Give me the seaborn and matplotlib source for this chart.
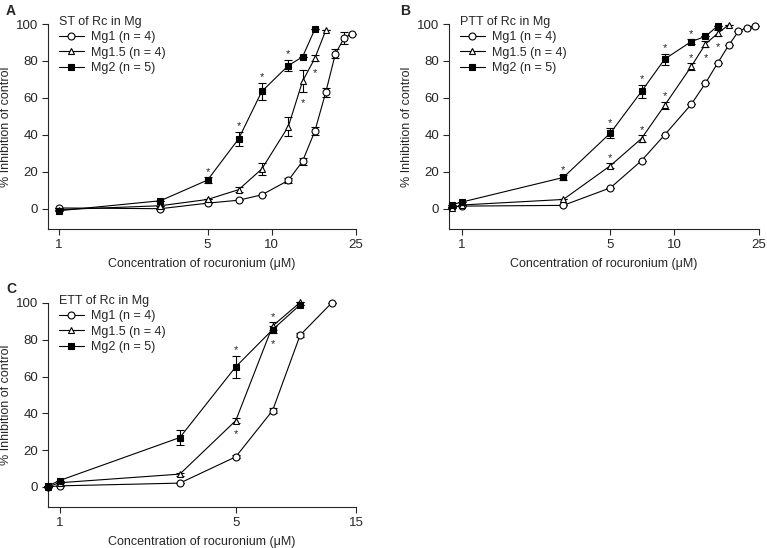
import matplotlib
matplotlib.use("Agg")
import matplotlib.pyplot as plt
import seaborn as sns
import pandas as pd

sns.set_style("ticks")
plt.rcParams['font.family'] = ['Liberation Sans', 'DejaVu Sans']

# ---- data ----
groups = ['Mg1', 'Mg1.5', 'Mg2']
labels = ['Mg1 (n = 4)', 'Mg1.5 (n = 4)', 'Mg2 (n = 5)']

# A: ST
st_x = {'Mg1': [1, 3, 5, 7, 9, 12, 14, 16, 18, 20, 22, 24],
        'Mg1.5': [1, 3, 5, 7, 9, 12, 14, 16, 18],
        'Mg2': [1, 3, 5, 7, 9, 12, 14, 16]}
st_y = {'Mg1': [0.4, 0, 3, 4.6, 7.5, 15.3, 25.7, 42, 63, 84, 92.4, 94.8],
        'Mg1.5': [-0.5, 1.6, 5, 10.3, 21.5, 44.5, 69, 81.5, 96.5],
        'Mg2': [-1.1, 4.3, 15.5, 37.8, 63.5, 77.5, 82.2, 97.2]}
st_err = {'Mg1': [0, 0, 0, 0, 0, 1.2, 2, 2.3, 2.5, 2.5, 3.4, 0],
          'Mg1.5': [0, 0, 0, 1.5, 3, 5, 6, 1.8, 0],
          'Mg2': [0, 0, 1.5, 3.7, 4.8, 3, 0, 0]}
st_stars = [('Mg2', 5, 1), ('Mg2', 7, 1), ('Mg2', 9, 1), ('Mg2', 12, 1),
            ('Mg1.5', 14, -1), ('Mg1.5', 16, -1)]

# B: PTT
ptt_x = {'Mg1': [0.9, 1, 3, 5, 7, 9, 12, 14, 16, 18, 20, 22, 24],
         'Mg1.5': [0.9, 1, 3, 5, 7, 9, 12, 14, 16, 18],
         'Mg2': [0.9, 1, 3, 5, 7, 9, 12, 14, 16]}
ptt_y = {'Mg1': [1, 1.4, 1.8, 11.3, 26, 40, 56.5, 68, 79, 88.5, 96, 98, 99],
         'Mg1.5': [0.2, 2, 5, 23.3, 38, 56, 77, 89.2, 95, 99.5],
         'Mg2': [2.2, 3.6, 16.9, 41, 63.5, 81, 90.5, 93.3, 99]}
ptt_err = {'Mg1': [0, 0, 0, 0, 0, 0, 0, 0, 0, 0, 0, 0, 0],
           'Mg1.5': [0, 0, 0, 1.2, 1.8, 2, 1.8, 1.5, 1.5, 0],
           'Mg2': [0, 0, 1.2, 2.5, 3.7, 3, 1.2, 0, 0]}
ptt_stars = [('Mg2', 3, 1), ('Mg2', 5, 1), ('Mg2', 7, 1), ('Mg2', 9, 1), ('Mg2', 12, 1),
             ('Mg1.5', 5, 1), ('Mg1.5', 7, 1), ('Mg1.5', 9, 1), ('Mg1.5', 12, 1),
             ('Mg1.5', 14, -1), ('Mg1.5', 16, -1)]

# C: ETT
ett_x = {'Mg1': [0.9, 1, 3, 5, 7, 9, 12],
         'Mg1.5': [0.9, 1, 3, 5, 7, 9],
         'Mg2': [0.9, 1, 3, 5, 7, 9]}
ett_y = {'Mg1': [0, 0.5, 2, 16.3, 41.5, 82.5, 100],
         'Mg1.5': [0, 2.2, 6.9, 36, 87.5, 100.3],
         'Mg2': [0.5, 3.4, 26.8, 65.3, 85.5, 99]}
ett_err = {'Mg1': [0, 0, 0, 0.8, 1.5, 1.2, 0],
           'Mg1.5': [0, 0, 0.8, 1.5, 2, 0],
           'Mg2': [0, 0, 4.3, 6, 2, 0]}
ett_stars = [('Mg2', 5, 1), ('Mg1.5', 5, -1), ('Mg1.5', 7, 1), ('Mg2', 7, -1)]

styles = {'Mg1': dict(marker='o', markerfacecolor='white'),
          'Mg1.5': dict(marker='^', markerfacecolor='white'),
          'Mg2': dict(marker='s', markerfacecolor='black')}


def draw_panel(ax, xs, ys, errs, stars, title, xmin, xmax, xticks):
    for g, lab in zip(groups, labels):
        df = pd.DataFrame({'conc': xs[g], 'inh': ys[g]})
        sns.lineplot(data=df, x='conc', y='inh', ax=ax, color='black', linewidth=0.8,
                     markersize=5, markeredgecolor='black', markeredgewidth=0.8,
                     label=lab, errorbar=None, clip_on=False, zorder=3, **styles[g])
        eb = ax.errorbar(xs[g], ys[g], yerr=errs[g], fmt='none', ecolor='black',
                         elinewidth=0.8, capsize=3, capthick=0.8, zorder=2)
        for art in eb.lines[1] + eb.lines[2]:
            art.set_clip_on(False)
    for g, xv, side in stars:
        i = xs[g].index(xv)
        yv = ys[g][i] + side * errs[g][i]
        ax.annotate('*', (xv, yv), xytext=(0, side * 6 - 2), textcoords='offset points',
                    ha='center', va='center', fontsize=8)
    ax.set_xscale('log')
    ax.set_xlim(xmin, xmax)
    ax.set_xticks(xticks)
    ax.set_xticklabels([str(t) for t in xticks])
    ax.minorticks_off()
    ax.set_ylim(-11, 100)
    ax.set_yticks([0, 20, 40, 60, 80, 100])
    ax.set_xlabel('Concentration of rocuronium (\u03bcM)', fontsize=9, labelpad=5)
    ax.set_ylabel('% Inhibition of control', fontsize=9, labelpad=3)
    ax.tick_params(labelsize=9.5, length=4, width=0.8, direction='out', pad=3)
    for s in ['left', 'bottom']:
        ax.spines[s].set_linewidth(0.8)
    sns.despine(ax=ax)
    ax.legend(title=title, loc='upper left', bbox_to_anchor=(0.035, 1.04),
              frameon=False, fontsize=9, title_fontsize=9, alignment='left',
              handlelength=2.0, handletextpad=0.6, labelspacing=0.28,
              borderpad=0, borderaxespad=0)


fig = plt.figure(figsize=(7.67, 5.48), dpi=100)
ax_a = fig.add_axes([0.0626, 0.5821, 0.4016, 0.3741])
ax_b = fig.add_axes([0.5854, 0.5821, 0.4042, 0.3741])
ax_c = fig.add_axes([0.0626, 0.0748, 0.4016, 0.3723])

draw_panel(ax_a, st_x, st_y, st_err, st_stars, 'ST of Rc in Mg', 0.887, 25, [1, 5, 10, 25])
draw_panel(ax_b, ptt_x, ptt_y, ptt_err, ptt_stars, 'PTT of Rc in Mg', 0.87, 25, [1, 5, 10, 25])
draw_panel(ax_c, ett_x, ett_y, ett_err, ett_stars, 'ETT of Rc in Mg', 0.9, 15, [1, 5, 15])

fig.text(0.008, 0.993, 'A', fontsize=10, fontweight='bold', va='top')
fig.text(0.522, 0.993, 'B', fontsize=10, fontweight='bold', va='top')
fig.text(0.008, 0.485, 'C', fontsize=10, fontweight='bold', va='top')

fig.savefig('out.png', dpi=100)
